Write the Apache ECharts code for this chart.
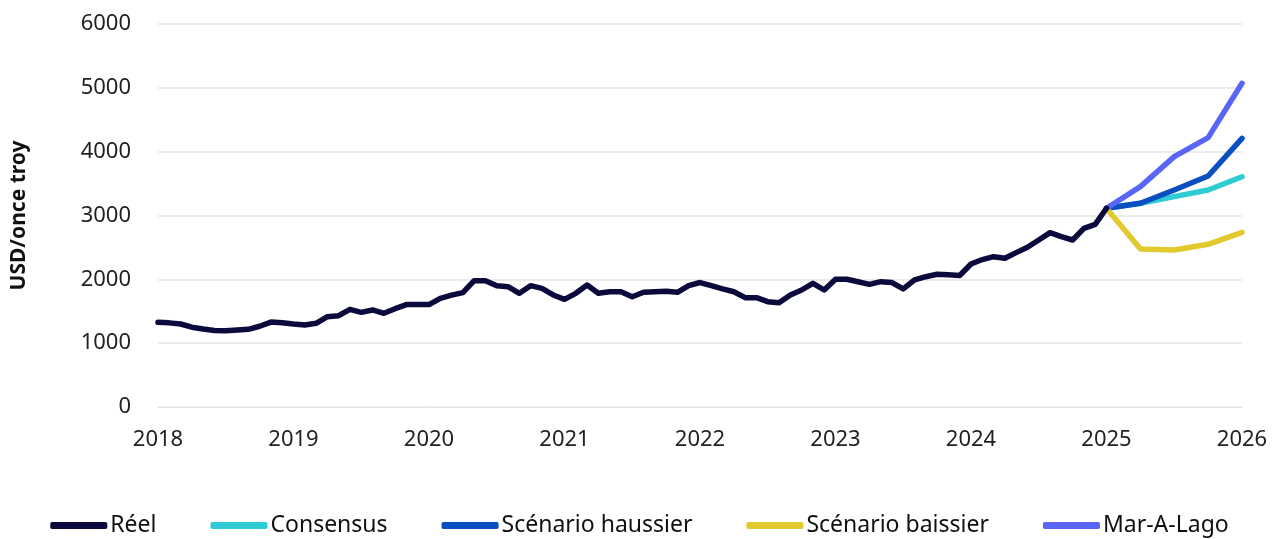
<!DOCTYPE html>
<html><head><meta charset="utf-8">
<script src="https://cdn.jsdelivr.net/npm/echarts@6/dist/echarts.min.js"></script>
<style>html,body{margin:0;padding:0;background:#fff}#c{width:1279px;height:539px}</style>
</head><body><div id="c"></div>
<script>
// Monthly actual gold price, Jan 2018 .. Jan 2025
const reelStartYear = 2018;
const reel = [
 1327,1318,1300,1250,1222,1200,1196,1205,1217,1265,1330,1320,
 1300,1285,1311,1415,1430,1530,1483,1520,1468,1540,1605,1605,
 1605,1703,1752,1791,1979,1979,1901,1885,1781,1901,1859,1755,
 1687,1781,1911,1781,1806,1806,1728,1797,1806,1812,1797,1901,
 1950,1900,1850,1806,1713,1713,1650,1634,1755,1833,1938,1833,
 2001,2001,1963,1922,1963,1950,1849,1990,2041,2079,2070,2060,
 2240,2310,2355,2330,2418,2502,2616,2731,2668,2616,2799,2862,
 3113
];
// Quarterly scenarios Jan 2025 .. Jan 2026
const scenarioDates = [2025, 2025.25, 2025.5, 2025.75, 2026];
const consensus = [3113, 3191, 3295, 3400, 3608];
const haussier  = [3113, 3191, 3400, 3619, 4209];
const baissier  = [3113, 2475, 2460, 2549, 2737];
const marALago  = [3113, 3452, 3922, 4220, 5071];
const names = ['Réel','Consensus','Scénario haussier','Scénario baissier','Mar-A-Lago'];
const colors = ['#0b0a3d','#2fcdd3','#0a4fc2','#e2c92e','#5865f7'];

const reelData = reel.map((v,i)=>[reelStartYear + i/12, v]);
const sc = arr => arr.map((v,i)=>[scenarioDates[i], v]);
const font = '"Noto Sans", sans-serif';

function mk(name, data, color, z){
  return {name, type:'line', data, showSymbol:false, symbol:'none', z,
    lineStyle:{color, width:5.5, cap:'round', join:'round'}, itemStyle:{color}};
}

const chart = echarts.init(document.getElementById('c'));
chart.setOption({
  animation:false,
  grid:{left:158, right:37, top:24, bottom:132},
  xAxis:{type:'value', min:2018, max:2026, interval:1,
    axisLine:{show:true, lineStyle:{color:'#e3e3e3'}}, axisTick:{show:false},
    splitLine:{show:false},
    axisLabel:{formatter:v=>String(v), fontFamily:font, fontSize:22, color:'#222', margin:22}},
  yAxis:{type:'value', min:0, max:6000, interval:1000,
    name:'USD/once troy', nameLocation:'middle', nameRotate:90, nameGap:128,
    nameTextStyle:{fontFamily:font, fontSize:21, fontWeight:'bold', color:'#111'},
    axisLine:{show:false}, axisTick:{show:false},
    splitLine:{lineStyle:{color:'#e6e6e6', width:1.5}},
    axisLabel:{formatter:v=>String(v), fontFamily:font, fontSize:22, color:'#222', margin:27}},
  legend:{top:509, left:'center', itemWidth:57, itemHeight:7, itemGap:54, icon:'roundRect',
    data:names, textStyle:{fontFamily:font, fontSize:23, color:'#111', padding:[0,0,0,-2]}},
  series:[
    mk(names[0], reelData, colors[0], 6),
    mk(names[1], sc(consensus), colors[1], 2),
    mk(names[2], sc(haussier), colors[2], 3),
    mk(names[3], sc(baissier), colors[3], 4),
    mk(names[4], sc(marALago), colors[4], 5)
  ]
});
</script></body></html>
